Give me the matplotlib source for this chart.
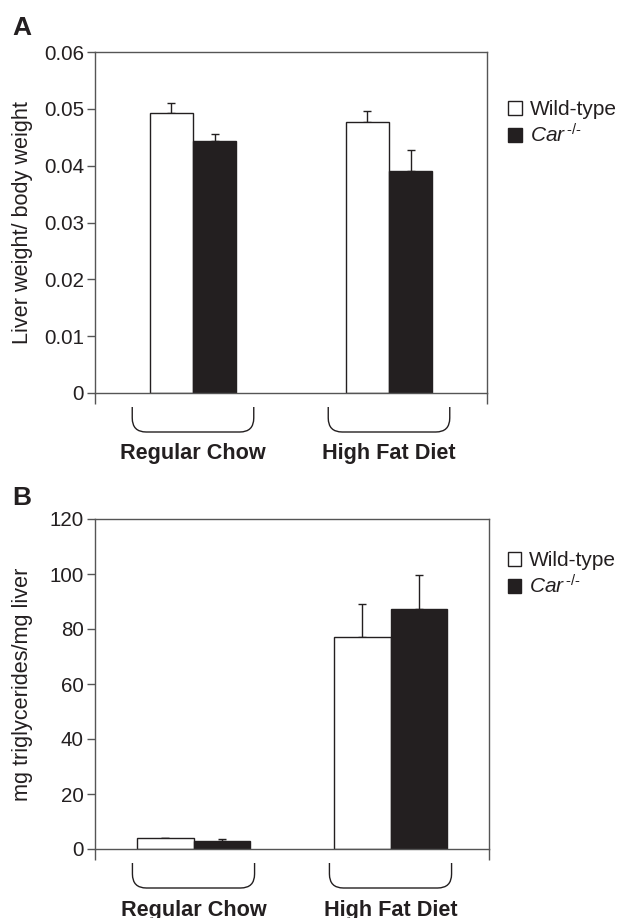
import numpy as np
import matplotlib
matplotlib.use("Agg")
import matplotlib.pyplot as plt
from matplotlib.path import Path
from matplotlib.patches import PathPatch
from matplotlib.ticker import FuncFormatter

plt.rcParams['font.family'] = ['Liberation Sans', 'DejaVu Sans']
plt.rcParams['mathtext.fontset'] = 'custom'
plt.rcParams['mathtext.rm'] = 'Liberation Sans'
plt.rcParams['mathtext.it'] = 'Liberation Sans:italic'

# Данные
groups = ['Regular Chow', 'High Fat Diet']
series = ['Wild-type', r'$\mathit{Car}^{\,\text{-/-}}$']

ratio_wt = [0.0493, 0.0477]
ratio_wt_err = [0.0017, 0.0020]
ratio_ko = [0.0444, 0.0390]
ratio_ko_err = [0.0012, 0.0038]

tg_wt = [3.9, 77.2]
tg_wt_err = [0.2, 11.9]
tg_ko = [3.0, 87.2]
tg_ko_err = [0.8, 12.4]

ink = '#231f20'
line_c = '#555555'

W, H = 623, 918
fig = plt.figure(figsize=(W / 100, H / 100), dpi=100)


def px_axes(left, top, right, bottom):
    return fig.add_axes([left / W, 1 - bottom / H, (right - left) / W, (bottom - top) / H])


def draw_brace(ax, x0, x1, top_px, bot_px, r_px=14):
    h = ax.bbox.height
    w = ax.bbox.width
    xr = (r_px / w) * (ax.get_xlim()[1] - ax.get_xlim()[0])
    yt, yb = -top_px / h, -bot_px / h
    yr = r_px / h
    verts = [(x0, yt), (x0, yb + yr), (x0, yb), (x0 + xr, yb),
             (x1 - xr, yb), (x1, yb), (x1, yb + yr), (x1, yt)]
    codes = [Path.MOVETO, Path.LINETO, Path.CURVE3, Path.CURVE3,
             Path.LINETO, Path.CURVE3, Path.CURVE3, Path.LINETO]
    ax.add_patch(PathPatch(Path(verts, codes), transform=ax.get_xaxis_transform(),
                           fill=False, edgecolor=ink, lw=1.0, clip_on=False))


def panel(ax, wt, wt_err, ko, ko_err, width, ymax, ystep, fmt, ylabel, label_off, leg_xy):
    x = np.arange(len(groups))
    b1 = ax.bar(x - width / 2, wt, width, color='white', edgecolor=ink, lw=1.0, zorder=2)
    b2 = ax.bar(x + width / 2, ko, width, color=ink, edgecolor=ink, lw=1.0, zorder=2)
    ax.errorbar(x - width / 2, wt, yerr=[np.zeros(len(wt)), wt_err], fmt='none',
                ecolor=ink, elinewidth=1.0, capsize=3.2, capthick=1.0, zorder=1)
    ax.errorbar(x + width / 2, ko, yerr=[np.zeros(len(ko)), ko_err], fmt='none',
                ecolor=ink, elinewidth=1.0, capsize=3.2, capthick=1.0, zorder=1)
    ax.set_xlim(-0.5, len(groups) - 0.5)
    ax.set_ylim(0, ymax)
    ax.set_yticks(np.arange(0, ymax + ystep / 2, ystep))
    ax.yaxis.set_major_formatter(FuncFormatter(fmt))
    ax.set_xticks([-0.5, len(groups) - 0.5])
    ax.set_xticklabels([])
    ax.tick_params(axis='y', direction='out', length=6, width=1.0, color=line_c,
                   labelsize=14.8, labelcolor=ink, pad=2)
    ax.tick_params(axis='x', direction='out', length=8, width=1.0, color=line_c)
    for s in ax.spines.values():
        s.set_color(line_c)
        s.set_linewidth(1.0)
    ax.set_ylabel(ylabel, fontsize=15.6, color=ink)
    ax.yaxis.set_label_coords(-0.158, 0.5)
    for xi, g in zip(x, groups):
        draw_brace(ax, xi - 0.31, xi + 0.31, 14, 39)
        ax.text(xi, label_off, g, transform=ax.get_xaxis_transform(), ha='center',
                va='center', fontsize=15.6, fontweight='bold', color=ink)
    leg = ax.legend([b1, b2], series, loc='upper left', bbox_to_anchor=leg_xy,
                    frameon=False, fontsize=15.0, handlelength=0.65, handleheight=0.65,
                    handletextpad=0.38, labelspacing=0.2, borderaxespad=0, borderpad=0)
    for t in leg.get_texts():
        t.set_color(ink)


axA = px_axes(95, 52, 487, 393)
panel(axA, ratio_wt, ratio_wt_err, ratio_ko, ratio_ko_err, 0.22, 0.06, 0.01,
      lambda v, p: '0' if abs(v) < 1e-9 else f'{v:.2f}',
      'Liver weight/ body weight', -0.176, (1.054, 0.859))

axB = px_axes(95, 519, 489, 849)
panel(axB, tg_wt, tg_wt_err, tg_ko, tg_ko_err, 0.285, 120, 20,
      lambda v, p: f'{v:.0f}',
      'mg triglycerides/mg liver', -0.185, (1.048, 0.903))

fig.text(12 / W, 1 - 16 / H, 'A', fontsize=19, fontweight='bold', color=ink, va='top')
fig.text(12 / W, 1 - 486 / H, 'B', fontsize=19, fontweight='bold', color=ink, va='top')

fig.savefig('out.png', dpi=100)
